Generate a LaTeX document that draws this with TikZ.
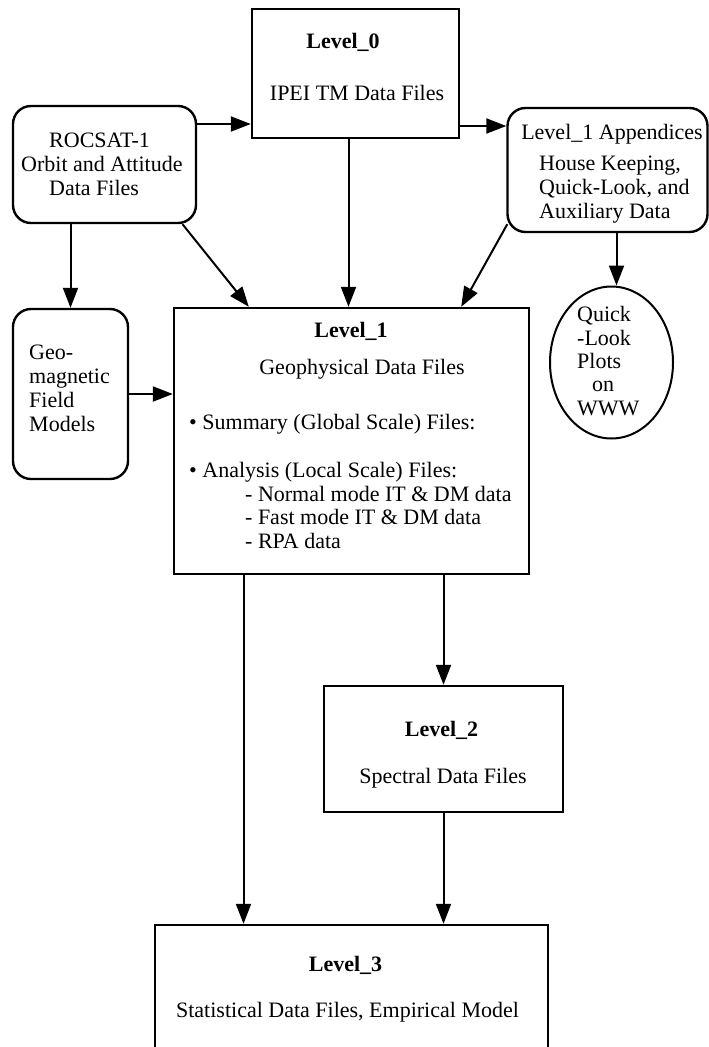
\documentclass[tikz,border=0pt]{standalone}
\usepackage{fontspec}
\setmainfont{Liberation Serif}
\usetikzlibrary{arrows.meta,shapes.geometric,calc}
\begin{document}
\begin{tikzpicture}[x=1pt,y=-1pt,
  sq/.style={draw, line width=2.4pt, inner sep=0pt},
  rnd/.style={sq, rounded corners=18pt},
  txt/.style={font=\fontsize{22}{24}\selectfont, inner sep=0pt, anchor=base},
  ltxt/.style={txt, anchor=base west, align=left},
  arr/.style={line width=2pt, -{Triangle[length=20pt,width=15pt]}}]
\useasboundingbox (0,0) rectangle (709,1047);
\fill[white] (0,0) rectangle (709,1047);
\clip (0,0) rectangle (709,1047);

% boxes
\node[sq, minimum width=207pt, minimum height=129pt] (l0) at (355.5,73.5) {};
\node[rnd, minimum width=183pt, minimum height=117pt] (rocsat) at (104.5,164.5) {};
\node[rnd, minimum width=200pt, minimum height=124pt] (app) at (607.5,170) {};
\node[rnd, minimum width=115pt, minimum height=170pt] (geo) at (70.5,394) {};
\node[sq, minimum width=355pt, minimum height=266pt] (l1) at (351.5,441) {};
\node[draw, ellipse, line width=2pt, inner sep=0pt, minimum width=123pt, minimum height=152pt] (ql) at (611.5,362.5) {};
\node[sq, minimum width=239pt, minimum height=126pt] (l2) at (443.5,749) {};
\node[sq, minimum width=393pt, minimum height=160pt] (l3) at (351.5,1005) {};

% texts (multi-line nodes: base = last line)
\node[txt] (l0a) at (343,48) {\textbf{Level\_0}};
\node[txt] (l0b) at (357,100) {IPEI TM Data Files};
\node[ltxt] (rt) at (21,195) {\hspace*{28pt}ROCSAT-1\\Orbit and Attitude\\\hspace*{28pt}Data Files};
\node[txt] (apa) at (612,139) {Level\_1 Appendices};
\node[ltxt] (apb) at (539,218) {House Keeping,\\Quick-Look, and\\Auxiliary Data};
\node[ltxt] (gt) at (29,431) {Geo-\\magnetic\\Field\\Models};
\node[txt] (l1a) at (351,337) {\textbf{Level\_1}};
\node[txt] (l1b) at (362,374) {Geophysical Data Files};
\node[ltxt] (l1c) at (189,429) {\textbullet\ Summary (Global Scale) Files:};
\node[ltxt, font=\fontsize{22}{23.4}\selectfont] (l1d) at (189,548) {\textbullet\ Analysis (Local Scale) Files:\\\hspace*{56pt}- Normal mode IT \& DM data\\\hspace*{56pt}- Fast mode IT \& DM data\\\hspace*{56pt}- RPA data};
\node[ltxt, font=\fontsize{22}{23.3}\selectfont] (qt) at (577,415) {Quick\\-Look\\Plots\\\hspace*{15pt}on\\WWW};
\node[txt] (l2a) at (441.5,736) {\textbf{Level\_2}};
\node[txt] (l2b) at (443,783) {Spectral Data Files};
\node[txt] (l3a) at (345.5,971) {\textbf{Level\_3}};
\node[txt] (l3b) at (347.5,1017) {Statistical Data Files, Empirical Model};

% connectors
\draw[arr] (rocsat.east |- 0,124) -- (l0.west |- 0,124);
\draw[arr] (l0.east |- 0,126) -- (app.west |- 0,126);
\draw[arr] (geo.north |- rocsat.south) -- (geo.north);
\draw[arr] ([xshift=78pt]rocsat.south) -- ([xshift=76pt]l1.north west);
\draw[arr] ([xshift=-7pt]l0.south) -- ([xshift=-7pt]l0.south |- l1.north);
\draw[arr] ([yshift=9pt,xshift=1pt]app.south west) -- ([xshift=-69pt]l1.north east);
\draw[arr] ([xshift=5pt]ql.north |- app.south) -- ([xshift=5pt]ql.north);
\draw[arr] (geo.east) -- (geo.east -| l1.west);
\draw[arr] ([xshift=-108pt]l1.south) -- ([xshift=-108pt]l1.south |- l3.north);
\draw[arr] (l2.north |- l1.south) -- (l2.north);
\draw[arr] (l2.south) -- (l2.south |- l3.north);
\end{tikzpicture}
\end{document}
